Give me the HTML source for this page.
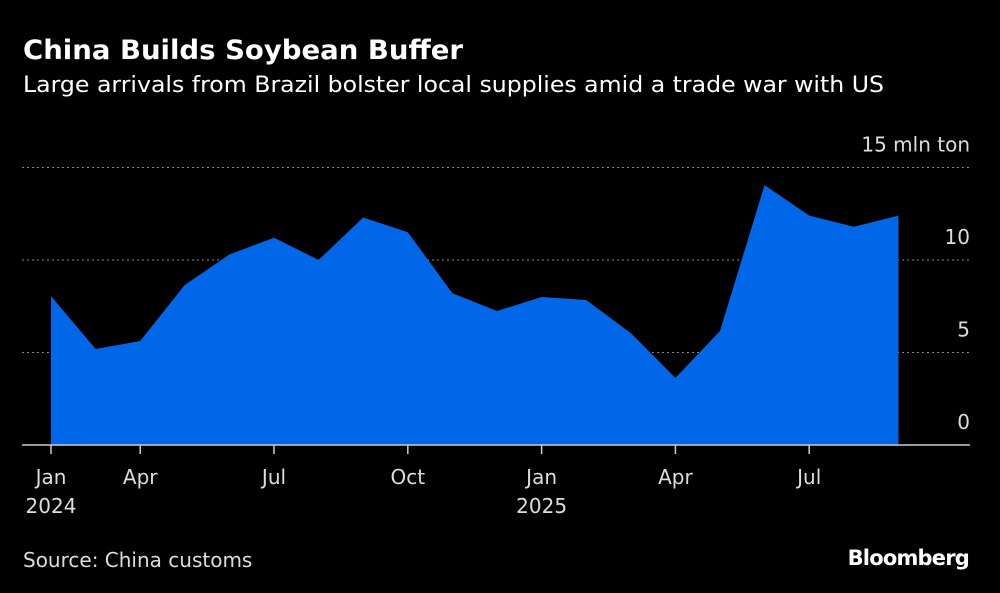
<!DOCTYPE html>
<html><head><meta charset="utf-8"><style>
html,body{margin:0;padding:0;background:#000;}
svg{display:block;font-family:"DejaVu Sans","Liberation Sans",sans-serif;}
</style></head><body>
<svg id="chart" width="1000" height="593" viewBox="0 0 1000 593">
<rect width="1000" height="593" fill="#000"/>
<text x="23" y="59" font-size="27" font-weight="bold" fill="#fff" textLength="440" lengthAdjust="spacingAndGlyphs">China Builds Soybean Buffer</text>
<text x="23" y="92" font-size="22" fill="#fff" textLength="861" lengthAdjust="spacingAndGlyphs">Large arrivals from Brazil bolster local supplies amid a trade war with US</text>
<g id="grid"></g>
<path id="area" fill="#0068e8"></path>
<line x1="22" x2="970" y1="445" y2="445" stroke="#ccc" stroke-width="1.5"/>
<g id="xt"></g>
<g id="yt"></g>
<text x="23" y="567" font-size="20" fill="#ddd">Source: China customs</text>
<text x="969" y="565" font-size="21" font-weight="bold" fill="#fff" text-anchor="end" letter-spacing="-0.8">Bloomberg</text>
</svg>
<script>
const months = ["2024-02","2024-03","2024-04","2024-05","2024-06","2024-07","2024-08","2024-09","2024-10","2024-11","2024-12","2025-01","2025-02","2025-03","2025-04","2025-05","2025-06","2025-07","2025-08","2025-09"];
const values = [8.05,5.19,5.62,8.65,10.3,11.2,10.0,12.3,11.5,8.2,7.24,8.0,7.84,6.05,3.62,6.16,14.05,12.4,11.8,12.4];
const yTicks = [0,5,10,15];
const yTickLabels = ["0","5","10","15 mln ton"];
const xTickIdx = [-1,2,5,8,11,14,17];
const xTickLabels = ["Jan","Apr","Jul","Oct","Jan","Apr","Jul"];
const xTickYears = ["2024","","","","2025","",""];
const NS="http://www.w3.org/2000/svg";
function x(i){return 51+(i)*44.6;}
function y(v){return 445-v*18.5;}
function mk(tag,attrs,parent,txt){const e=document.createElementNS(NS,tag);for(const k in attrs)e.setAttribute(k,attrs[k]);if(txt!==undefined)e.textContent=txt;parent.appendChild(e);return e;}
const grid=document.getElementById('grid'),yt=document.getElementById('yt'),xt=document.getElementById('xt');
yTicks.forEach((t,i)=>{
 if(t>0){const l=mk('line',{x1:22,x2:970,y1:y(t),y2:y(t),stroke:'#888','stroke-width':1,'stroke-dasharray':'2,3'},grid);
 
 }
 const tx=mk('text',{x:970,y:y(t)-16,'font-size':20,fill:'#ddd','text-anchor':'end'},yt,yTickLabels[i]);
 
 
});
let d='M'+x(0)+','+y(0);
values.forEach((v,i)=>{d+=' L'+x(i)+','+y(v);});
d+=' L'+x(values.length-1)+','+y(0)+' Z';
document.getElementById('area').setAttribute('d',d);
xTickIdx.forEach((idx,i)=>{
 const px=Math.max(x(idx),51);
 const tk=mk('line',{x1:px,x2:px,y1:445,y2:454,stroke:'#ccc','stroke-width':1.5},xt);
 
 
 const t=mk('text',{x:px,y:484,'font-size':20,fill:'#ddd','text-anchor':'middle'},xt,xTickLabels[i]);
 
 
 if(xTickYears[i]){const t2=mk('text',{x:px,y:513,'font-size':20,fill:'#ddd','text-anchor':'middle'},xt,xTickYears[i]);
 
 }
});
</script>
</body></html>
